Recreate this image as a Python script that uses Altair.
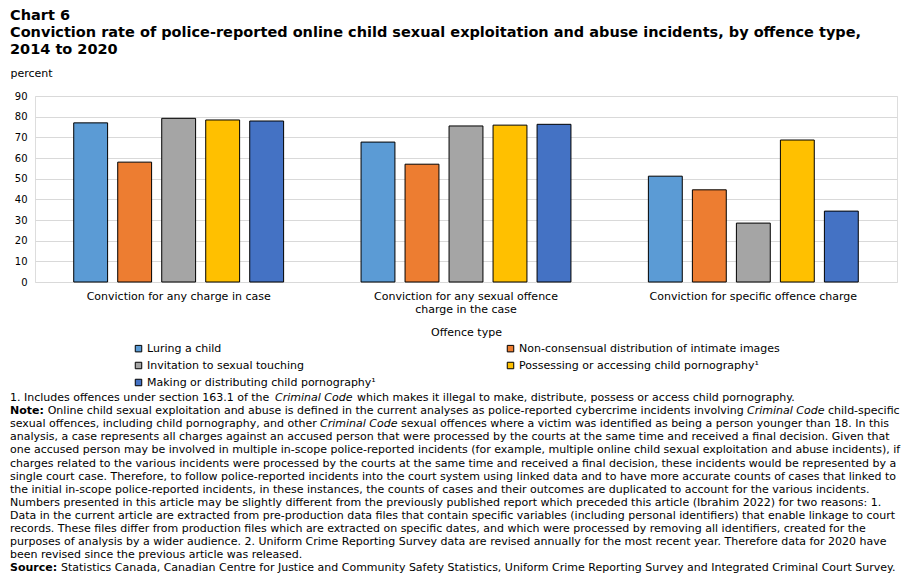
import altair as alt
import pandas as pd

# ---- data -------------------------------------------------------------
measures = [
    "Conviction for any charge in case",
    "Conviction for any sexual offence charge in the case",
    "Conviction for specific offence charge",
]
offences = [
    "Luring a child",
    "Non-consensual distribution of intimate images",
    "Invitation to sexual touching",
    "Possessing or accessing child pornography¹",
    "Making or distributing child pornography¹",
]
colors = ["#5B9BD5", "#ED7D31", "#A5A5A5", "#FFC000", "#4472C4"]

# conviction rate (percent) per offence type, in the order of `measures`
luring_a_child = [77.0, 67.7, 51.2]
non_consensual_images = [58.0, 57.0, 44.6]
invitation_sexual_touching = [79.2, 75.5, 28.5]
possessing_accessing_cp = [78.4, 75.9, 68.7]
making_distributing_cp = [77.9, 76.3, 34.3]

series = [
    luring_a_child,
    non_consensual_images,
    invitation_sexual_touching,
    possessing_accessing_cp,
    making_distributing_cp,
]

rows = []
for offence, vals in zip(offences, series):
    for measure, v in zip(measures, vals):
        rows.append({"measure": measure, "offence": offence, "value": v})
df = pd.DataFrame(rows)

title_lines = [
    "Chart 6",
    "Conviction rate of police-reported online child sexual exploitation and abuse incidents, by offence type,",
    "2014 to 2020",
]

# footnote lines as runs of (text, style); style: "n" normal, "b" bold, "i" italic
footnote_runs = [
    [("1. Includes offences under section 163.1 of the", "n"), ("Criminal Code", "i"),
     ("which makes it illegal to make, distribute, possess or access child pornography.", "n")],
    [("Note:", "b"),
     ("Online child sexual exploitation and abuse is defined in the current analyses as police-reported cybercrime incidents involving", "n"),
     ("Criminal Code", "i"), ("child-specific", "n")],
    [("sexual offences, including child pornography, and other", "n"), ("Criminal Code", "i"),
     ("sexual offences where a victim was identified as being a person younger than 18. In this", "n")],
    [("analysis, a case represents all charges against an accused person that were processed by the courts at the same time and received a final decision. Given that", "n")],
    [("one accused person may be involved in multiple in-scope police-reported incidents (for example, multiple online child sexual exploitation and abuse incidents), if", "n")],
    [("charges related to the various incidents were processed by the courts at the same time and received a final decision, these incidents would be represented by a", "n")],
    [("single court case. Therefore, to follow police-reported incidents into the court system using linked data and to have more accurate counts of cases that linked to", "n")],
    [("the initial in-scope police-reported incidents, in these instances, the counts of cases and their outcomes are duplicated to account for the various incidents.", "n")],
    [("Numbers presented in this article may be slightly different from the previously published report which preceded this article (Ibrahim 2022) for two reasons: 1.", "n")],
    [("Data in the current article are extracted from pre-production data files that contain specific variables (including personal identifiers) that enable linkage to court", "n")],
    [("records. These files differ from production files which are extracted on specific dates, and which were processed by removing all identifiers, created for the", "n")],
    [("purposes of analysis by a wider audience. 2. Uniform Crime Reporting Survey data are revised annually for the most recent year. Therefore data for 2020 have", "n")],
    [("been revised since the previous article was released.", "n")],
    [("Source:", "b"),
     ("Statistics Canada, Canadian Centre for Justice and Community Safety Statistics, Uniform Crime Reporting Survey and Integrated Criminal Court Survey.", "n")],
]
# left edge (px from the plot's left side) of every run, line by line
footnote_run_x = [
    [-25, 240, 322],
    [-25, 12.7, 712, 793],
    [-25, 285, 366],
    [-25], [-25], [-25], [-25], [-25], [-25], [-25], [-25], [-25], [-25],
    [-25, 26],
]

FONT = "DejaVu Sans"
W, H = 862, 186

wrap_expr = (
    "datum.value == 'Conviction for any sexual offence charge in the case' "
    "? ['Conviction for any sexual offence', 'charge in the case'] : datum.label"
)

# legend entries fill column by column, so list them in that order
legend_order = [0, 2, 4, 1, 3]
legend_domain = [offences[i] for i in legend_order]
legend_range = [colors[i] for i in legend_order]

bars = (
    alt.Chart(df)
    .mark_bar(stroke="black", strokeWidth=1)
    .encode(
        x=alt.X(
            "measure:N",
            sort=measures,
            scale=alt.Scale(paddingInner=0, paddingOuter=0),
            axis=alt.Axis(
                title="Offence type",
                labelAngle=0,
                labelExpr=wrap_expr,
                labelFontSize=11,
                labelFont=FONT,
                labelColor="black",
                labelPadding=8,
                labelLineHeight=13,
                labelBaseline="top",
                labelLimit=400,
                ticks=False,
                domain=False,
                titleFont=FONT,
                titleFontSize=11,
                titleFontWeight="normal",
                titleColor="black",
                titlePadding=12,
            ),
        ),
        xOffset=alt.XOffset(
            "offence:N",
            sort=offences,
            scale=alt.Scale(paddingInner=0.23, paddingOuter=0.88),
        ),
        y=alt.Y(
            "value:Q",
            scale=alt.Scale(domain=[0, 90]),
            axis=alt.Axis(
                values=list(range(0, 91, 10)),
                title="percent",
                titleAngle=0,
                titleAlign="left",
                titleBaseline="middle",
                titleX=-25,
                titleY=-23,
                titleFont=FONT,
                titleFontSize=11,
                titleFontWeight="normal",
                titleColor="black",
                labelFont=FONT,
                labelFontSize=10,
                labelColor="black",
                labelPadding=8,
                ticks=False,
                domain=False,
                gridColor="#d9d9d9",
                gridWidth=1,
            ),
        ),
        color=alt.Color(
            "offence:N",
            scale=alt.Scale(domain=legend_domain, range=legend_range),
            legend=alt.Legend(
                title=None,
                orient="none",
                legendX=98,
                legendY=247,
                columns=2,
                columnPadding=129,
                rowPadding=5,
                symbolType="square",
                symbolSize=42,
                symbolStrokeColor="black",
                symbolStrokeWidth=1,
                labelFont=FONT,
                labelFontSize=11,
                labelColor="black",
                labelOffset=3,
                labelLimit=400,
            ),
        ),
    )
)

layers = [bars]
line_h = 13.1
style_kw = {
    "n": {},
    "b": {"fontWeight": "bold"},
    "i": {"fontStyle": "italic"},
}
for i, (runs, xs) in enumerate(zip(footnote_runs, footnote_run_x)):
    y = 302 + i * line_h
    for (txt, st), xo in zip(runs, xs):
        layers.append(
            alt.Chart(df.head(1))
            .mark_text(align="left", baseline="middle", font=FONT, fontSize=11,
                       color="black", **style_kw[st])
            .encode(x=alt.value(xo), y=alt.value(y), text=alt.value(txt))
        )

chart = (
    alt.layer(*layers)
    .properties(
        width=W,
        height=H,
        autosize=alt.AutoSizeParams(type="none"),
        padding={"left": 35, "top": 96, "right": 15, "bottom": 294},
        title=alt.TitleParams(
            text=title_lines,
            anchor="start",
            font=FONT,
            fontSize=14.5,
            fontWeight="bold",
            color="black",
            lineHeight=17,
            offset=10,
        ),
    )
    .configure_view(stroke="black", strokeWidth=1)
    .configure(background="white")
)

chart.save("out.html", embed_options={"renderer": "svg", "actions": False})
